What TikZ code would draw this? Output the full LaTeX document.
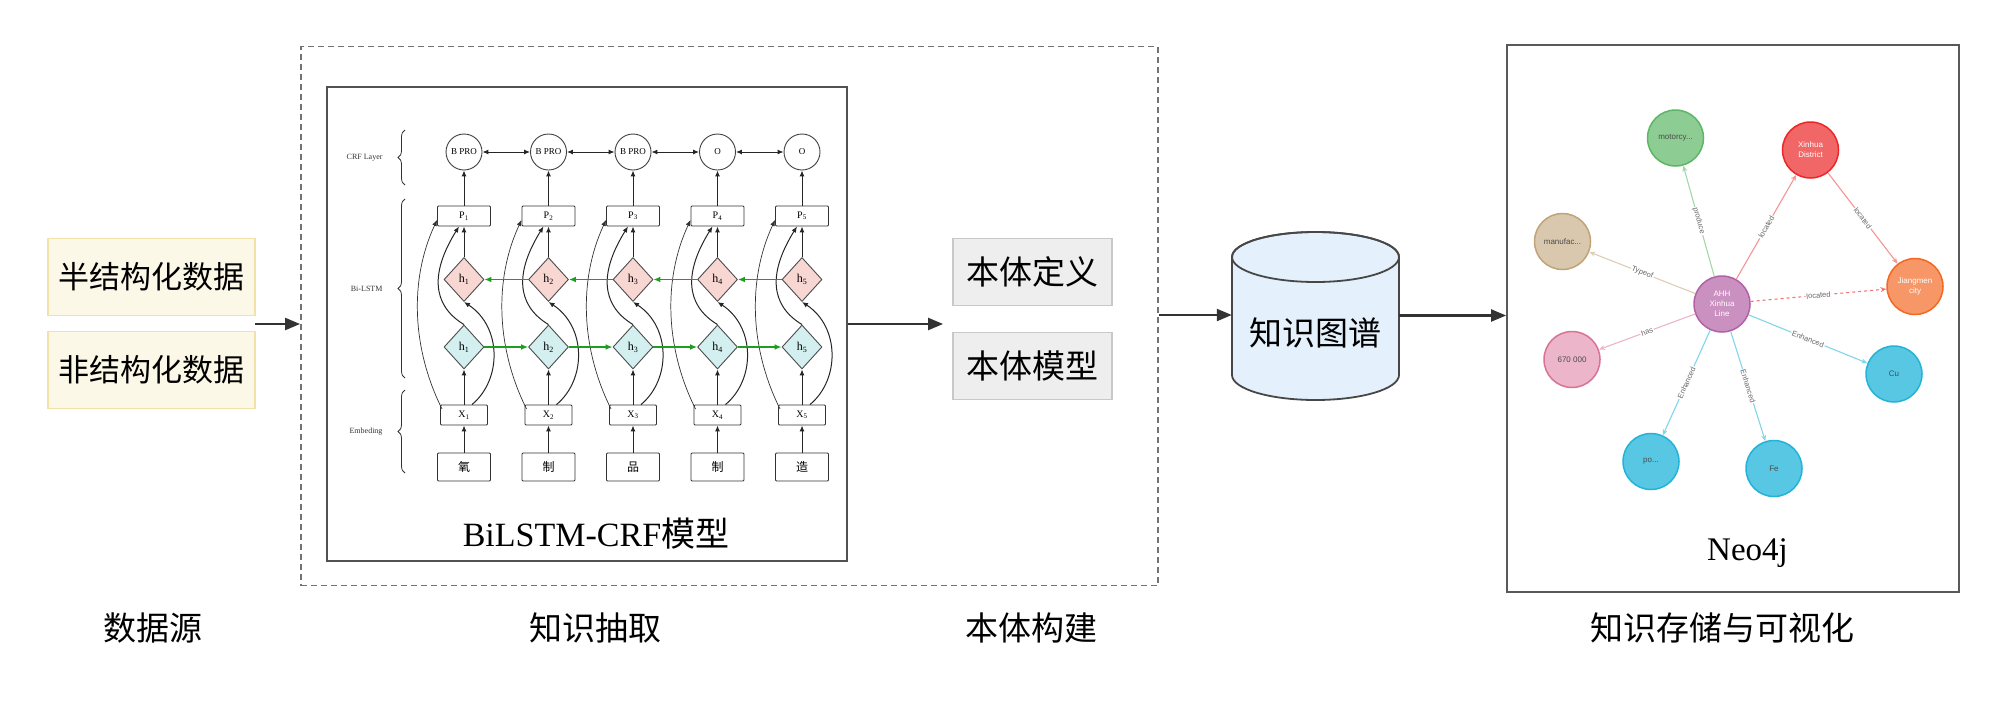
\documentclass[tikz,border=0pt]{standalone}
\usepackage{fontspec}
\setmainfont{Liberation Serif}
\newfontfamily\cjk{Noto Sans CJK SC}
\newfontfamily\gsans{Liberation Sans}
\usetikzlibrary{arrows.meta,shapes.geometric,decorations.pathreplacing,calc}
\definecolor{darkline}{HTML}{333333}
\definecolor{srcfill}{HTML}{FCF8E8}
\definecolor{srcborder}{HTML}{F2E2A8}
\definecolor{ontfill}{HTML}{EEEEEE}
\definecolor{ontborder}{HTML}{C8C8C8}
\definecolor{cylfill}{HTML}{E4F0FB}
\definecolor{lstmgreen}{HTML}{1E9E1E}
\definecolor{redfill}{HTML}{F8D7D3}
\definecolor{bluefill}{HTML}{D3EFF0}
\definecolor{ngreen}{HTML}{8DCC93}\definecolor{ngreenb}{HTML}{5DB665}
\definecolor{nred}{HTML}{F16667}\definecolor{nredb}{HTML}{EB2728}
\definecolor{ntan}{HTML}{D9C8AE}\definecolor{ntanb}{HTML}{C0A378}
\definecolor{norange}{HTML}{F79767}\definecolor{norangeb}{HTML}{F36924}
\definecolor{npurple}{HTML}{C990C0}\definecolor{npurpleb}{HTML}{B261A5}
\definecolor{npink}{HTML}{ECB5C9}\definecolor{npinkb}{HTML}{DA7298}
\definecolor{nblue}{HTML}{57C7E3}\definecolor{nblueb}{HTML}{23B3D7}
\tikzset{
  flow/.style={draw=darkline, line width=2.2pt, -{Triangle[length=15pt,width=12pt]}},
  srcbox/.style={draw=srcborder, fill=srcfill, line width=1.5pt, minimum width=207pt, minimum height=77pt, inner sep=0pt, font=\cjk\fontsize{31}{36}\selectfont},
  ontbox/.style={draw=ontborder, fill=ontfill, line width=1.8pt, minimum width=159pt, minimum height=67pt, inner sep=0pt, font=\cjk\fontsize{33}{38}\selectfont},
  steplabel/.style={font=\cjk\fontsize{33}{38}\selectfont, anchor=center},
  frame/.style={draw=darkline!85, line width=1.8pt},
  lbox/.style={draw=black!80, line width=0.9pt, rectangle, rounded corners=1pt, inner sep=0pt, font=\fontsize{10}{11}\selectfont},
  ldiam/.style={draw=black!70, line width=0.9pt, diamond, inner sep=0pt, minimum width=40pt, minimum height=44pt, font=\fontsize{12}{13}\selectfont},
  lcirc/.style={draw=black!75, line width=0.9pt, circle, inner sep=0pt, minimum size=36pt, font=\fontsize{9}{10}\selectfont},
  larr/.style={draw=black!85, line width=1pt, -{Latex[length=6pt,width=5pt]}},
  lthin/.style={draw=black!80, line width=0.7pt, -{Latex[length=6pt,width=5pt]}},
  garr/.style={draw=lstmgreen, line width=1.4pt, -{Latex[length=7pt,width=6pt]}},
  bracelab/.style={font=\fontsize{8}{9}\selectfont, anchor=east, text=black!80},
  brc/.style={draw=black!80, line width=0.8pt, decorate, decoration={brace, amplitude=7pt}},
  gnode/.style={circle, minimum size=56pt, inner sep=0pt, line width=1.5pt, align=center, font=\gsans\fontsize{8}{10}\selectfont},
  gedge/.style={line width=1.1pt, -{Stealth[length=6pt,width=5pt]}},
  elab/.style={midway, sloped, fill=white, inner sep=1pt, font=\gsans\fontsize{7.5}{8}\selectfont, text=black!60}
}
\begin{document}
\begin{tikzpicture}[x=1pt,y=-1pt]
\useasboundingbox (0,0) rectangle (2000,726);
% ---------- data sources
\node[srcbox] (semi) at (151.5,277) {半结构化数据};
\node[srcbox] (unst) at (151.5,370) {非结构化数据};
\coordinate (srcout) at (255,324);
% ---------- dashed knowledge extraction frame
\node[draw=black!55, dashed, dash pattern=on 6pt off 4pt, line width=1.8pt, minimum width=857pt, minimum height=539pt, inner sep=0pt] (dash) at (729.5,316) {};
\draw[flow] (srcout) -- (dash.west |- srcout);
% ---------- BiLSTM-CRF box
\node[frame, minimum width=520pt, minimum height=474pt, inner sep=0pt] (lstm) at (587,324) {};
\node[font=\fontsize{34}{40}\selectfont, anchor=base] (lstmlab) at (596,546.7) {BiLSTM-CRF{\cjk 模型}};
% brace labels
\draw[brc] (405,185) -- (405,130);
\node[bracelab] (lcrf) at (386,157.5) {CRF Layer};
\draw[brc] (405,378) -- (405,199);
\node[bracelab] (llstm) at (386,288.5) {Bi-LSTM};
\draw[brc] (405,473) -- (405,390);
\node[bracelab] (lemb) at (386,431.5) {Embeding};
% columns
\foreach \i/\cx/\ch/\lab in {1/464/氧/B PRO,2/548.5/制/B PRO,3/633/品/B PRO,4/717.5/制/O,5/802/造/O}{
  \node[lbox, minimum width=53pt, minimum height=28pt, font=\cjk\fontsize{12}{13}\selectfont] (c\i) at (\cx,467) {\ch};
  \node[lbox, minimum width=47pt, minimum height=20pt] (x\i) at (\cx,415) {X\textsubscript{\i}};
  \node[ldiam, fill=bluefill] (hb\i) at (\cx,347) {h\textsubscript{\i}};
  \node[ldiam, fill=redfill] (hr\i) at (\cx,279.5) {h\textsubscript{\i}};
  \node[lbox, minimum width=53pt, minimum height=20pt] (p\i) at (\cx,216) {P\textsubscript{\i}};
  \node[lcirc] (o\i) at (\cx,152) {\lab};
  \draw[larr] (c\i) -- (x\i);
  \draw[larr] (x\i) -- (hb\i);
  \draw[larr] (hr\i) -- (p\i);
  \draw[larr] (p\i) -- (o\i);
  \draw[larr] ($(x\i.north)+(8,0)$) .. controls +(30,-25) and +(38,25) .. (hr\i.south);
  \draw[larr] (hb\i.north) .. controls +(-33,-20) and +(-28,45) .. ($(p\i.south)+(-5,0)$);
  \draw[lthin] ($(x\i.west)+(2,-6)$) .. controls +(-30,-60) and +(-28,60) .. ($(p\i.west)+(0,4)$);
}
\foreach \i/\j in {1/2,2/3,3/4,4/5}{
  \draw[garr] (hb\i.east) -- (hb\j.west);
  \draw[garr] (hr\j.west) -- (hr\i.east);
  \draw[larr, {Latex[length=6pt,width=5pt]}-{Latex[length=6pt,width=5pt]}] (o\i.east) -- (o\j.west);
}
% ---------- ontology
\node[ontbox] (ontdef) at (1032.5,272) {本体定义};
\node[ontbox] (ontmod) at (1032.5,366) {本体模型};
\draw[flow] (lstm.east |- srcout) -- ($(ontdef.west |- srcout)+(-9,0)$);
% ---------- cylinder (drawn shape, named node for connectors)
\node[minimum width=167pt, minimum height=168pt, inner sep=0pt] (kg) at (1315.5,316) {};
\draw[draw=darkline!90, fill=cylfill, line width=1.8pt]
  (1232,257) -- (1232,375) arc[start angle=180, end angle=0, x radius=83.5, y radius=25]
  -- (1399,257) arc[start angle=0, end angle=-180, x radius=83.5, y radius=25] -- cycle;
\draw[draw=darkline!90, line width=1.8pt] (1315.5,257) ellipse[x radius=83.5, y radius=25];
\node[font=\cjk\fontsize{33}{38}\selectfont] (kgt) at (1315.5,333) {知识图谱};
\draw[flow] (dash.east |- 0,315) -- (kg.west |- 0,315);
% ---------- Neo4j frame
\node[frame, draw=black!65, minimum width=452pt, minimum height=547pt, inner sep=0pt] (neo) at (1733,318.5) {};
\draw[flow] (kg.east |- 0,315.5) -- (neo.west |- 0,315.5);
\node[font=\fontsize{33}{38}\selectfont, anchor=base] (neolab) at (1747.5,560) {Neo4j};
% graph nodes
\node[gnode, fill=npurple, draw=npurpleb, text=white] (ctr) at (1722,304) {AHH\\Xinhua\\Line};
\node[gnode, fill=ngreen, draw=ngreenb, text=black!70] (mot) at (1675.5,138) {motorcy...};
\node[gnode, fill=nred, draw=nredb, text=white] (xd) at (1810.5,150) {Xinhua\\District};
\node[gnode, fill=ntan, draw=ntanb, text=black!70] (man) at (1562.5,241.5) {manufac...};
\node[gnode, fill=norange, draw=norangeb, text=white] (jm) at (1915,286.5) {Jiangmen\\city};
\node[gnode, fill=npink, draw=npinkb, text=black!70] (num) at (1572,359.5) {670 000};
\node[gnode, fill=nblue, draw=nblueb, text=black!70] (cu) at (1894,374) {Cu};
\node[gnode, fill=nblue, draw=nblueb, text=black!70] (po) at (1651,461.5) {po...};
\node[gnode, fill=nblue, draw=nblueb, text=black!70] (fe) at (1774,468.5) {Fe};
% graph edges
\draw[gedge, draw=ngreen!80] (ctr) -- node[elab] {produce} (mot);
\draw[gedge, draw=nred!70] (ctr) -- node[elab] {located} (xd);
\draw[gedge, draw=nred!70] (xd) -- node[elab] {located} (jm);
\draw[gedge, draw=nred!90, dashed] (ctr) -- node[elab] {located} (jm);
\draw[gedge, draw=ntan!90] (ctr) -- node[elab] {Typeof} (man);
\draw[gedge, draw=npink] (ctr) -- node[elab] {has} (num);
\draw[gedge, draw=nblue!75] (ctr) -- node[elab] {Enhanced} (cu);
\draw[gedge, draw=nblue!75] (ctr) -- node[elab] {Enhanced} (po);
\draw[gedge, draw=nblue!75] (ctr) -- node[elab] {Enhanced} (fe);
% ---------- stage labels
\node[steplabel] (s1) at (152.5,628) {数据源};
\node[steplabel] (s2) at (595,628) {知识抽取};
\node[steplabel] (s3) at (1031,628) {本体构建};
\node[steplabel] (s4) at (1722,628) {知识存储与可视化};
\end{tikzpicture}
\end{document}
